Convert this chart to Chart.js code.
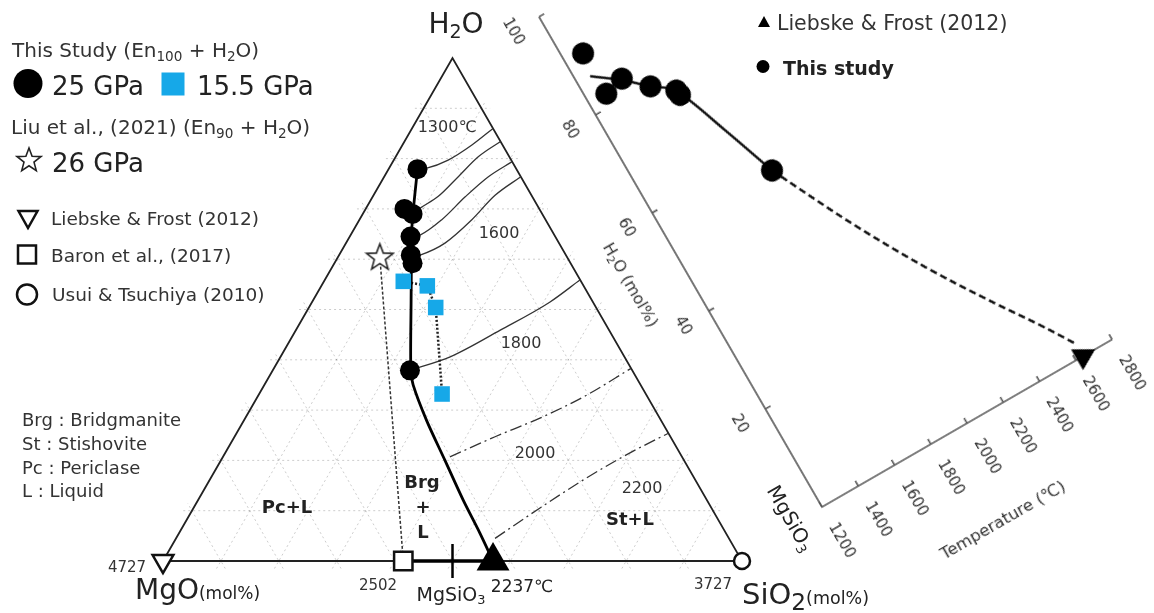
<!DOCTYPE html>
<html>
<head>
<meta charset="utf-8">
<script src="https://cdn.jsdelivr.net/npm/chart.js@4.4.1/dist/chart.umd.min.js"></script>
<style>
  html, body { margin: 0; padding: 0; background: #fff; }
  #page { position: relative; width: 1154px; height: 613px; overflow: hidden; font-family: "DejaVu Sans", sans-serif; color: #333; }
  #tern { position: absolute; left: 0; top: 0; }
  #sideWrap { position: absolute; left: 742px; top: -89px; width: 465px; height: 726px; transform-origin: 80px 596px; transform: rotate(-30deg); }
  .lbl { position: absolute; white-space: nowrap; line-height: 1; }
  sub { font-size: 0.68em; vertical-align: -0.28em; line-height: 0; }
</style>
</head>
<body>
<div id="page">
  <canvas id="tern" width="1154" height="613"></canvas>
  <div id="sideWrap"><canvas id="side" width="465" height="726"></canvas></div>
</div>
<script>
// ternary compositions, [MgO, SiO2, H2O] mol%
const liquid25GPa = [[17.1, 5.0, 77.9], [23.3, 6.7, 70.0], [22.4, 8.6, 69.0], [25.0, 10.5, 64.5], [26.8, 12.4, 60.8], [27.3, 13.5, 59.2], [38.4, 23.7, 37.9]];
const liquid155GPa = [[30.7, 13.7, 55.6], [27.0, 18.3, 54.7], [27.7, 21.9, 50.4], [35.2, 31.6, 33.2]];
const liu26GPa = [[32.3, 7.2, 60.5]];
const baron2017 = [[58.5, 41.5, 0]];
const liebskeMgO = [[100, 0, 0]];
const usuiSiO2 = [[0, 100, 0]];
const eutectic2237 = [[43.0, 57.0, 0]];
const mgsio3 = [[50, 50, 0]];
const liquidus = [[17.1, 5.0, 77.9], [22.1, 8.5, 69.4], [24.8, 10.6, 64.6], [27.0, 12.8, 60.2], [31.2, 16.9, 51.9], [38.2, 23.8, 38.0], [39.3, 25.7, 35.0], [40.5, 31.5, 28.0], [41.3, 38.7, 20.0], [42.1, 45.8, 12.1], [42.5, 52.0, 5.5], [43.0, 57.0, 0]];
const iso1300 = [[17.1, 5.0, 77.9], [15.4, 6.5, 78.1], [10.9, 9.4, 79.7], [5.3, 12.0, 82.7], [0, 14.0, 86.0]];
const iso1400 = [[22.4, 8.6, 69.0], [20.6, 9.3, 70.1], [16.2, 11.3, 72.5], [10.8, 12.8, 76.4], [5.3, 14.3, 80.4], [0, 16.6, 83.4]];
const iso1500 = [[25.0, 10.5, 64.5], [23.2, 12.0, 64.8], [18.0, 14.2, 67.8], [11.6, 16.0, 72.4], [5.6, 18.0, 76.4], [0, 20.6, 79.4]];
const iso1600 = [[26.8, 12.8, 60.4], [25.2, 14.0, 60.8], [19.7, 17.1, 63.2], [12.8, 19.4, 67.8], [6.3, 21.0, 72.7], [0, 23.6, 76.4]];
const iso1800 = [[38.3, 23.8, 38.0], [30.1, 29.3, 40.6], [18.8, 35.3, 45.9], [7.4, 41.1, 51.5], [0, 44.1, 55.9]];
const iso2000 = [[40.1, 39.2, 20.7], [30.3, 45.0, 24.7], [20.7, 50.9, 28.4], [10.7, 56.5, 32.8], [0, 61.7, 38.3]];
const iso2200 = [[40.4, 55.1, 4.5], [29.6, 59.8, 10.5], [19.0, 64.7, 16.3], [8.6, 69.9, 21.5], [0, 74.6, 25.4]];
const gridSteps = [10, 20, 30, 40, 50, 60, 70, 80, 90];

// right panel: temperature (C) vs H2O (mol%)
const studyTemp = [1295, 1295, 1395, 1495, 1592, 1597, 1797];
const studyH2O = [90.5, 82.3, 83.2, 79.5, 76.6, 75.6, 55.9];
const fitTemp = [1270, 1395, 1495, 1595, 1700, 1797];
const fitH2O = [86.4, 82.9, 79.5, 76.2, 66.1, 55.9];
const extTemp = [1797, 2000, 2200, 2400, 2550, 2635];
const extH2O = [55.9, 40.8, 27.6, 16.0, 7.8, 2.8];
const liebskeTemp = [2640];
const liebskeH2O = [0];
const tempTicks = [1200, 1400, 1600, 1800, 2000, 2200, 2400, 2600, 2800];
const h2oTicks = [20, 40, 60, 80, 100];

Chart.defaults.font.family = '"DejaVu Sans", sans-serif';

const BLUE = '#16a8e8';
const toXY = p => ({ x: p[1] + p[2] / 2, y: p[2] });
const pairs = (xs, ys) => xs.map((v, i) => ({ x: v, y: ys[i] }));

function starImage(size, lw) {
    const c = document.createElement('canvas');
    c.width = c.height = size;
    const g = c.getContext('2d');
    const R = size / 2 - lw, r = R * 0.42;
    g.beginPath();
    for (let i = 0; i < 10; i++) {
        const a = -Math.PI / 2 + i * Math.PI / 5;
        const rr = i % 2 ? r : R;
        g.lineTo(size / 2 + rr * Math.cos(a), size / 2 + R * 0.08 + rr * Math.sin(a));
    }
    g.closePath();
    g.fillStyle = '#fff';
    g.fill();
    g.lineWidth = lw;
    g.strokeStyle = '#222';
    g.stroke();
    return c;
}

function lineSet(pts, color, width, dash, tension, mono) {
    return { data: pts.map(toXY), showLine: true, borderColor: color, borderWidth: width, borderDash: dash || [], tension: tension || 0,
             cubicInterpolationMode: mono ? 'monotone' : 'default', pointRadius: 0, clip: false };
}
function markSet(pts, style, radius, fill, border, bw, rotation) {
    return { data: pts.map(toXY), showLine: false, pointStyle: style, pointRadius: radius, rotation: rotation || 0,
             backgroundColor: fill, borderColor: border || fill, borderWidth: bw || 0, clip: false };
}

// back to front
const ternSets = [];
const e = 1.5; // grid lines run a little past the edges, like tick marks
gridSteps.forEach(k => {
    const grey = 'rgba(0,0,0,0.2)';
    ternSets.push(lineSet([[100 - k + e, -e, k], [-e, 100 - k + e, k]], grey, 1, [2, 3]));
    ternSets.push(lineSet([[100 - k + e, k, -e], [-e, k, 100 - k + e]], grey, 1, [2, 3]));
    ternSets.push(lineSet([[k, 100 - k + e, -e], [k, -e, 100 - k + e]], grey, 1, [2, 3]));
});
ternSets.push(lineSet([[100, 0, 0], [0, 100, 0], [0, 0, 100], [100, 0, 0]], '#222', 1.8));
[iso1300, iso1400, iso1500, iso1600, iso1800].forEach(iso => ternSets.push(lineSet(iso, '#333', 1.3, [], 0.35, true)));
[iso2000, iso2200].forEach(iso => ternSets.push(lineSet(iso, '#333', 1.3, [12, 4, 2, 4], 0.35, true)));
ternSets.push(lineSet([liu26GPa[0], baron2017[0]], '#333', 1.5, [3, 2]));
ternSets.push(lineSet(liquid155GPa, '#222', 2.5, [2, 2]));
ternSets.push(lineSet(liquidus, '#000', 2.8, [], 0.3));
ternSets.push(lineSet([baron2017[0], eutectic2237[0]], '#000', 3.5));
ternSets.push(markSet(mgsio3, 'line', 17, '#000', '#000', 2.5, 90));
ternSets.push(markSet(liquid155GPa, 'rect', 11, BLUE));
ternSets.push(markSet(liquid25GPa, 'circle', 10, '#000'));
ternSets.push(markSet(liu26GPa, starImage(31, 1.6), 10, '#fff'));
ternSets.push(markSet(baron2017, 'rect', 13, '#fff', '#111', 2.5));
ternSets.push(markSet(eutectic2237, 'triangle', 19, '#000'));
ternSets.push(markSet(liebskeMgO, 'triangle', 12, '#fff', '#111', 2.5, 180));
ternSets.push(markSet(usuiSiO2, 'circle', 8, '#fff', '#111', 2.5));
ternSets.forEach((d, i) => { d.order = ternSets.length - i; });

const baseOpts = {
    responsive: false,
    animation: false,
    devicePixelRatio: 1,
    events: [],
    plugins: { legend: { display: false }, tooltip: { enabled: false } }
};

new Chart(document.getElementById('tern'), {
    type: 'scatter',
    data: { datasets: ternSets },
    options: Object.assign({}, baseOpts, {
        layout: { padding: { left: 163, right: 412, top: 58, bottom: 52 } },
        scales: {
            x: { type: 'linear', min: 0, max: 100, display: false },
            y: { type: 'linear', min: 0, max: 100, display: false }
        }
    })
});

// axes of the rotated temperature panel, drawn from its scales
const sideAxes = {
    id: 'sideAxes',
    beforeDatasetsDraw(chart) {
        const { ctx, scales: { x, y } } = chart;
        const x0 = x.getPixelForValue(tempTicks[0]);
        const x1 = x.getPixelForValue(tempTicks[tempTicks.length - 1]);
        const y0 = y.getPixelForValue(0);
        const y1 = y.getPixelForValue(h2oTicks[h2oTicks.length - 1]);
        ctx.save();
        ctx.strokeStyle = '#555';
        ctx.lineWidth = 1.6;
        ctx.beginPath();
        ctx.moveTo(x0, y1);
        ctx.lineTo(x0, y0);
        ctx.lineTo(x1, y0);
        ctx.stroke();
        ctx.beginPath();
        tempTicks.forEach(t => {
            const px = x.getPixelForValue(t);
            ctx.moveTo(px, y0);
            ctx.lineTo(px, y0 - 6);
        });
        h2oTicks.forEach(h => {
            const py = y.getPixelForValue(h);
            ctx.moveTo(x0, py);
            ctx.lineTo(x0 + 6, py);
        });
        ctx.stroke();
        ctx.fillStyle = '#333';
        ctx.font = '15px "DejaVu Sans"';
        ctx.textAlign = 'center';
        ctx.textBaseline = 'middle';
        tempTicks.forEach(t => {
            ctx.save();
            ctx.translate(x.getPixelForValue(t), y0 + 39);
            ctx.rotate(Math.PI / 2);
            ctx.fillText(String(t), 0, 0);
            ctx.restore();
        });
        h2oTicks.forEach(h => {
            ctx.save();
            ctx.translate(x0 - 30, y.getPixelForValue(h));
            ctx.rotate(Math.PI / 2);
            ctx.fillText(String(h), 0, 0);
            ctx.restore();
        });
        ctx.restore();
    }
};

const sideSets = [
    { data: pairs(extTemp, extH2O), showLine: true, borderColor: '#111', borderWidth: 2.5, borderDash: [7, 4], cubicInterpolationMode: 'monotone', pointRadius: 0, clip: false },
    { data: pairs(fitTemp, fitH2O), showLine: true, borderColor: '#111', borderWidth: 2.5, cubicInterpolationMode: 'monotone', pointRadius: 0, clip: false },
    { data: pairs(liebskeTemp, liebskeH2O), pointStyle: 'triangle', rotation: 210, pointRadius: 14, backgroundColor: '#000', borderWidth: 0, clip: false },
    { data: pairs(studyTemp, studyH2O), pointStyle: 'circle', pointRadius: 11, backgroundColor: '#000', borderWidth: 0, clip: false }
];
sideSets.forEach((d, i) => { d.order = sideSets.length - i; });

new Chart(document.getElementById('side'), {
    type: 'scatter',
    data: { datasets: sideSets },
    options: Object.assign({}, baseOpts, {
        layout: { padding: { left: 80, right: 50, top: 30, bottom: 130 } },
        scales: {
            x: { type: 'linear', min: 1200, max: 2800, display: false },
            y: { type: 'linear', min: 0, max: 100, display: false }
        }
    }),
    plugins: [sideAxes]
});

// text
function addLabel(parent, html, x, y, css, align, rot) {
    const d = document.createElement('div');
    d.className = 'lbl';
    d.innerHTML = html;
    if (css) d.style.cssText += css;
    d.style.left = x + 'px';
    d.style.top = y + 'px';
    d.style.transform = 'translate(' + (align === 'left' ? '0' : '-50%') + ',-50%)' + (rot ? ' rotate(' + rot + 'deg)' : '');
    parent.appendChild(d);
}
const page = document.getElementById('page');
const wrap = document.getElementById('sideWrap');

function starSvg(size) {
    const R = size / 2 - 1.5, r = R * 0.42, pts = [];
    for (let i = 0; i < 10; i++) {
        const a = -Math.PI / 2 + i * Math.PI / 5, rr = i % 2 ? r : R;
        pts.push((size / 2 + rr * Math.cos(a)).toFixed(1) + ',' + (size / 2 + R * 0.08 + rr * Math.sin(a)).toFixed(1));
    }
    return '<svg width="' + size + '" height="' + size + '"><polygon points="' + pts.join(' ') + '" fill="#fff" stroke="#222" stroke-width="1.6"/></svg>';
}

// left legend
addLabel(page, 'This Study (En<sub>100</sub> + H<sub>2</sub>O)', 12, 50, 'font-size:20px', 'left');
addLabel(page, '<svg width="30" height="30"><circle cx="15" cy="15" r="14.5" fill="#000"/></svg>', 28, 85);
addLabel(page, '25 GPa', 52, 86, 'font-size:26px;color:#222', 'left');
addLabel(page, '<div style="width:23px;height:23px;background:' + BLUE + '"></div>', 173, 84);
addLabel(page, '15.5 GPa', 197, 86, 'font-size:26px;color:#222', 'left');
addLabel(page, 'Liu et al., (2021) (En<sub>90</sub> + H<sub>2</sub>O)', 11, 127, 'font-size:20px', 'left');
addLabel(page, starSvg(28), 29, 161);
addLabel(page, '26 GPa', 52, 163, 'font-size:26px;color:#222', 'left');
addLabel(page, '<svg width="24" height="22"><polygon points="2.5,2.5 21.5,2.5 12,19.5" fill="#fff" stroke="#111" stroke-width="2.5"/></svg>', 28, 221);
addLabel(page, 'Liebske &amp; Frost (2012)', 51, 219, 'font-size:18.5px', 'left');
addLabel(page, '<svg width="22" height="22"><rect x="2" y="2" width="18" height="18" fill="#fff" stroke="#111" stroke-width="2.5"/></svg>', 27, 256);
addLabel(page, 'Baron et al., (2017)', 51, 256, 'font-size:18.5px', 'left');
addLabel(page, '<svg width="24" height="24"><circle cx="12" cy="12" r="10" fill="#fff" stroke="#111" stroke-width="2.5"/></svg>', 27, 296);
addLabel(page, 'Usui &amp; Tsuchiya (2010)', 52, 295, 'font-size:18.5px', 'left');
['Brg : Bridgmanite', 'St : Stishovite', 'Pc : Periclase', 'L : Liquid'].forEach((t, i) => {
    addLabel(page, t, 22, 420 + i * 23.8, 'font-size:18px', 'left');
});

// ternary labels
addLabel(page, 'H<sub>2</sub>O', 456, 24, 'font-size:28px;color:#222');
addLabel(page, '1300℃', 447, 127, 'font-size:16px');
addLabel(page, '1600', 499, 233, 'font-size:16px');
addLabel(page, '1800', 521, 343, 'font-size:16px');
addLabel(page, '2000', 535, 453, 'font-size:16px');
addLabel(page, '2200', 642, 488, 'font-size:16px');
addLabel(page, 'St+L', 630, 519, 'font-size:18px;font-weight:bold;color:#222');
addLabel(page, 'Pc+L', 287, 507, 'font-size:18px;font-weight:bold;color:#222');
addLabel(page, 'Brg', 422, 482, 'font-size:18px;font-weight:bold;color:#222');
addLabel(page, '+', 423, 507, 'font-size:18px;font-weight:bold;color:#222');
addLabel(page, 'L', 423, 532, 'font-size:18px;font-weight:bold;color:#222');
addLabel(page, '2502', 378, 585, 'font-size:15px');
addLabel(page, 'MgSiO<sub>3</sub>', 451, 594, 'font-size:19px;color:#222');
addLabel(page, '2237℃', 522, 586, 'font-size:17px;color:#222');
addLabel(page, '3727', 713, 584, 'font-size:15px');
addLabel(page, '4727', 127, 567, 'font-size:15px');
addLabel(page, 'MgO<span style="font-size:17px">(mol%)</span>', 135, 590, 'font-size:28px;color:#222', 'left');
addLabel(page, 'SiO<sub style="font-size:0.8em">2</sub><span style="font-size:17.5px">(mol%)</span>', 742, 594, 'font-size:29px;color:#222', 'left');

// right legend
addLabel(page, '<svg width="14" height="13"><polygon points="7,1 13,12 1,12" fill="#000"/></svg>', 764, 23);
addLabel(page, 'Liebske &amp; Frost (2012)', 777, 23, 'font-size:20.5px', 'left');
addLabel(page, '<svg width="14" height="14"><circle cx="7" cy="7" r="6.5" fill="#000"/></svg>', 763, 68);
addLabel(page, 'This study', 783, 68, 'font-size:19px;font-weight:bold;color:#222', 'left');

// rotated panel titles (panel frame coordinates)
addLabel(wrap, 'H<sub>2</sub>O (mol%)', 25, 308, 'font-size:16px', null, 90);
addLabel(wrap, 'Temperature (℃)', 230, 698, 'font-size:16.5px');
addLabel(wrap, 'MgSiO<sub>3</sub>', 47, 590, 'font-size:20px;color:#222', null, 90);
</script>
</body>
</html>
